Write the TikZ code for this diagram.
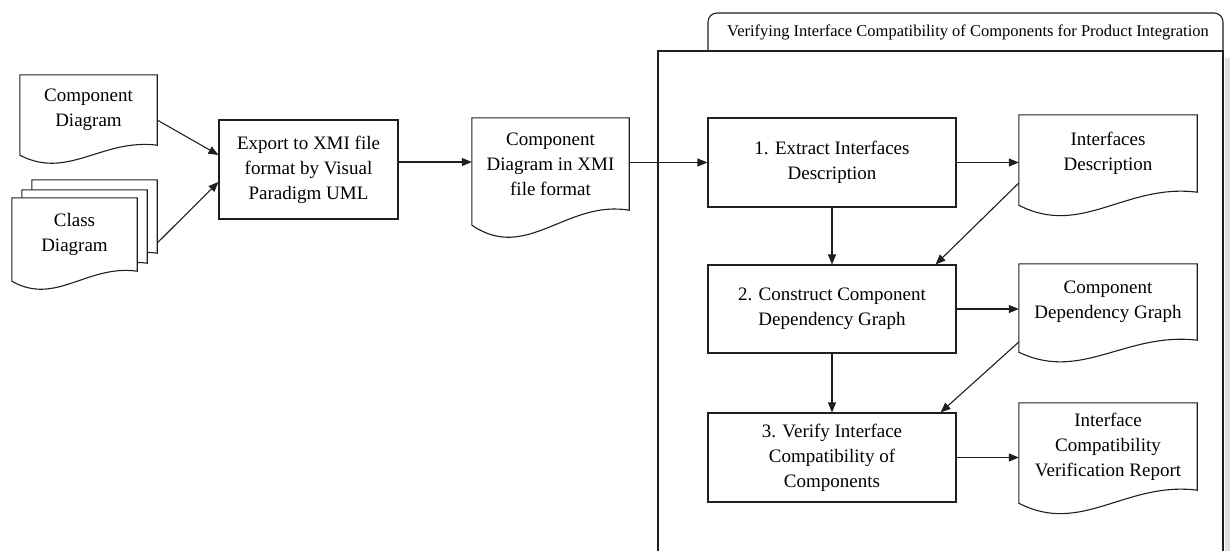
\documentclass[tikz,border=0pt]{standalone}
\usepackage{fontspec}
\setmainfont{Liberation Serif}
\usetikzlibrary{arrows.meta,calc}
\pgfdeclarelayer{background}
\pgfsetlayers{background,main}

\newcommand\bodyfont{\fontsize{19}{25}\selectfont}
\newcommand\titlefont{\fontsize{16.5}{20}\selectfont}

\tikzset{
  outline/.style={line width=1.1pt, draw=black!88},
  flow/.style={outline, -{Triangle[length=10pt,width=8pt]}},
  procbox/.style={outline, fill=white, align=center, inner sep=0pt, font=\bodyfont},
  doctext/.style={align=center, inner sep=0pt, font=\bodyfont},
}

% Document symbol: straight top and sides, wavy bottom edge.
% #1 = node holding the text, #2 = how far the left corner hangs below the right one
\newcommand\docoutline[2]{%
  \begin{pgfonlayer}{background}
  \draw[outline, fill=white] (#1.north west) -- (#1.north east) -- (#1.south east)
    .. controls ($(#1.south west)!0.6!(#1.south east)+(0,{-0.7*#2})$)
    and ($(#1.south west)!0.35!(#1.south east)+(0,{3.5*#2})$)
    .. ($(#1.south west)+(0,#2)$) -- cycle;
  \end{pgfonlayer}}

\begin{document}
\begin{tikzpicture}[x=1pt,y=-1pt]
\useasboundingbox (0,0) rectangle (1230,551);

% ---- container for the verification process ----
\fill[black!12] (1224.5,58) rectangle (1230,551);
\draw[outline] (658,551) -- (658,51) -- (1223,51) -- (1223,551);
\draw[outline, rounded corners=9pt] (708,51) -- (708,13) -- (1223,13) -- (1223,51);
\node[inner sep=0pt, font=\titlefont] (title) at (968,32)
  {Verifying Interface Compatibility of Components for Product Integration};

% ---- inputs ----
\node[doctext, minimum width=137pt, minimum height=70pt] (cd) at (88.5,110) {Component\\Diagram};
\docoutline{cd}{10}

\node[minimum width=125pt, minimum height=73pt, inner sep=0pt] (cb) at (94.5,216.5) {};
\docoutline{cb}{10}
\node[minimum width=125pt, minimum height=73pt, inner sep=0pt] (cm) at (84.5,226.5) {};
\docoutline{cm}{10}
\node[doctext, minimum width=125pt, minimum height=73pt] (cf) at (74.5,234.5) {Class\\Diagram};
\docoutline{cf}{10}

% ---- export step ----
\node[procbox, minimum width=179pt, minimum height=99pt] (export) at (308.5,169.5)
  {Export to XMI file\\format by Visual\\Paradigm UML};

\node[doctext, minimum width=157pt, minimum height=92pt] (xmi) at (550.5,164)
  {Component\\Diagram in XMI\\file format};
\docoutline{xmi}{15}

% ---- process steps ----
\node[procbox, minimum width=248pt, minimum height=89pt] (s1) at (832,162.5)
  {1. Extract Interfaces\\Description};
\node[procbox, minimum width=248pt, minimum height=88pt] (s2) at (832,309)
  {2. Construct Component\\Dependency Graph};
\node[procbox, minimum width=248pt, minimum height=89pt] (s3) at (832,457.5)
  {3. Verify Interface\\Compatibility of\\Components};

% ---- intermediate and final documents ----
\node[doctext, minimum width=178pt, minimum height=77pt] (ifd) at (1108,153.5)
  {Interfaces\\Description};
\docoutline{ifd}{13}
\node[doctext, minimum width=178pt, minimum height=76pt] (cdg) at (1108,302)
  {Component\\Dependency Graph};
\docoutline{cdg}{12}
\node[doctext, minimum width=178pt, minimum height=87pt] (rep) at (1108,446.5)
  {Interface\\Compatibility\\Verification Report};
\docoutline{rep}{13}

% ---- connectors ----
\draw[flow] ($(cd.east)+(0,10)$) -- ($(export.west)+(0,-14.5)$);
\draw[flow] ($(cb.east)+(0,26.5)$) -- ($(export.west)+(0,12.5)$);
\draw[flow] ($(export.east)+(0,-7.5)$) -- ($(xmi.west)+(0,-2)$);
\draw[flow] ($(xmi.east)+(0,-1.5)$) -- (s1.west);

\draw[flow] (s1.east) -- (s1.east -| ifd.west);
\draw[flow] (s2.east) -- (s2.east -| cdg.west);
\draw[flow] (s3.east) -- (s3.east -| rep.west);

\draw[flow] (s1.south) -- (s2.north);
\draw[flow] (s2.south) -- (s3.north);

\draw[flow] ($(ifd.west)+(0,29.5)$) -- ($(s2.north east)+(-21,0)$);
\draw[flow] ($(cdg.west)+(0,40)$) -- ($(s3.north east)+(-16,0)$);
\end{tikzpicture}
\end{document}
